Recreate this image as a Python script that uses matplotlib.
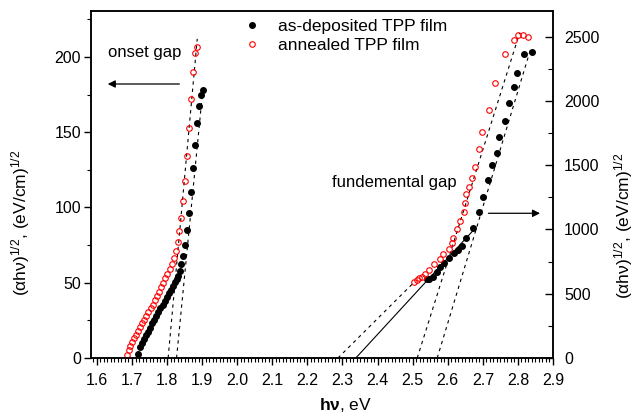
import matplotlib
matplotlib.use("Agg")
import matplotlib.pyplot as plt
from matplotlib.ticker import MultipleLocator, FormatStrFormatter

plt.rcParams['font.family'] = ['Liberation Sans', 'DejaVu Sans']
plt.rcParams['mathtext.fontset'] = 'custom'
plt.rcParams['mathtext.rm'] = 'Liberation Sans'
plt.rcParams['mathtext.bf'] = 'Liberation Sans:bold'
plt.rcParams['mathtext.default'] = 'regular'

# onset region (left axis)
dep_x_onset = [1.718, 1.724, 1.729, 1.734, 1.739, 1.745, 1.751, 1.757, 1.763, 1.769,
               1.775, 1.781, 1.787, 1.793, 1.799, 1.805, 1.811, 1.817, 1.822, 1.827,
               1.832, 1.836, 1.841, 1.846, 1.852, 1.857, 1.863, 1.869, 1.874, 1.880,
               1.886, 1.891, 1.897, 1.903]
dep_y_onset = [2.4, 7.1, 10, 12.5, 15, 17.5, 20, 23, 25.5, 28,
               30.5, 33, 35.5, 38, 40.5, 43, 45.5, 48, 50.5, 52.5,
               54.5, 58.0, 62.2, 67.8, 75.3, 85.0, 96.6, 110.5, 126.0, 141.5,
               155.9, 167.7, 174.8, 178.1]
ann_x_onset = [1.687, 1.691, 1.695, 1.700, 1.705, 1.711, 1.717, 1.723, 1.729, 1.735,
               1.741, 1.747, 1.753, 1.759, 1.765, 1.771, 1.777, 1.783, 1.789, 1.795,
               1.801, 1.807, 1.813, 1.819, 1.825, 1.830, 1.835, 1.841, 1.846, 1.852,
               1.857, 1.863, 1.869, 1.874, 1.879, 1.886]
ann_y_onset = [2, 5, 8, 10.5, 13, 15.5, 18, 20.5, 23, 25.5,
               28, 30.5, 33, 35.5, 38.5, 41, 44, 47, 50, 53,
               56, 59, 62.5, 66.5, 71.3, 77.3, 84.4, 93.2, 104.1, 117.8,
               134.4, 152.8, 172.3, 190.2, 202.5, 206.8]

# fundamental region (right axis)
dep_x_fund = [2.540, 2.547, 2.558, 2.570, 2.579, 2.589, 2.603, 2.617, 2.629, 2.642,
              2.651, 2.672, 2.688, 2.701, 2.715, 2.727, 2.739, 2.745, 2.762, 2.775,
              2.788, 2.797, 2.817, 2.839]
dep_y_fund = [612, 617, 633, 672, 711, 737, 781, 820, 840, 872,
              932, 1014, 1134, 1251, 1383, 1504, 1598, 1718, 1844, 1984,
              2107, 2220, 2363, 2384]
ann_x_fund = [2.504, 2.511, 2.518, 2.526, 2.534, 2.547, 2.560, 2.577, 2.587, 2.603,
              2.611, 2.615, 2.627, 2.634, 2.646, 2.649, 2.653, 2.661, 2.669, 2.679,
              2.688, 2.699, 2.717, 2.735, 2.762, 2.788, 2.800, 2.815, 2.829]
ann_y_fund = [589, 607, 625, 633, 654, 685, 732, 768, 809, 846,
              897, 934, 1004, 1066, 1134, 1204, 1276, 1328, 1403, 1489,
              1626, 1761, 1930, 2138, 2366, 2475, 2514, 2516, 2500]

# extrapolation lines (end points)
fit_dep_onset = ([1.827, 1.903], [0, 181])
fit_ann_onset = ([1.803, 1.886], [0, 212])
fit_ann_steep = ([2.513, 2.805], [0, 2530])
fit_dep_steep = ([2.570, 2.838], [0, 2420])
fit_ann_low = ([2.287, 2.505], [0, 592])
fit_dep_low = ([2.338, 2.675], [0, 1000])

fig = plt.figure(figsize=(6.36, 4.16), dpi=100)
fig.subplots_adjust(left=0.143, right=0.8695, top=0.9736, bottom=0.1394)
ax = fig.add_subplot(111)
ax2 = ax.twinx()

dash = dict(color='black', lw=0.8, dashes=(3, 3.5), zorder=1)
ax.plot(*fit_dep_onset, **dash)
ax.plot(*fit_ann_onset, **dash)
ax2.plot(*fit_ann_steep, **dash)
ax2.plot(*fit_dep_steep, **dash)
ax2.plot(*fit_ann_low, **dash)
ax2.plot(*fit_dep_low, color='black', lw=0.8, zorder=1)

ax.plot(dep_x_onset, dep_y_onset, 'o', color='black', ms=4, zorder=3,
        label='as-deposited TPP film')
ax.plot(ann_x_onset, ann_y_onset, 'o', mfc='none', mec='#ff0000', mew=0.8, ms=4,
        zorder=4, label='annealed TPP film')
ax2.plot(dep_x_fund, dep_y_fund, 'o', color='black', ms=4, zorder=3)
ax2.plot(ann_x_fund, ann_y_fund, 'o', mfc='none', mec='#ff0000', mew=0.8, ms=4, zorder=4)

ax.set_xlim(1.583, 2.9)
ax.set_ylim(0, 230.5)
ax2.set_ylim(0, 2700)

ax.xaxis.set_major_locator(MultipleLocator(0.1))
ax.xaxis.set_minor_locator(MultipleLocator(0.01))
ax.xaxis.set_major_formatter(FormatStrFormatter('%.1f'))
ax.yaxis.set_major_locator(MultipleLocator(50))
ax.yaxis.set_minor_locator(MultipleLocator(25))
ax2.yaxis.set_major_locator(MultipleLocator(500))
ax2.yaxis.set_minor_locator(MultipleLocator(250))

ax.tick_params(axis='both', which='major', direction='out', length=5, width=1,
               labelsize=11.5, pad=2)
ax.tick_params(axis='both', which='minor', direction='out', length=3, width=0.8)
ax.tick_params(axis='x', which='major', pad=6)
ax.tick_params(top=False, right=False, which='both')
ax2.tick_params(axis='y', which='major', direction='in', length=6, width=1,
                labelsize=11.5, pad=8)
ax2.tick_params(axis='y', which='minor', direction='in', length=3.5, width=0.8)

for a in (ax, ax2):
    for s in a.spines.values():
        s.set_linewidth(1.1)
        s.set_color('black')

ax.set_xlabel(r'$\mathbf{h\nu}$, eV', fontsize=12.5)
ax.xaxis.set_label_coords(0.55, -0.11)
ax.set_ylabel('(αhν)$^{1/2}$, (eV/cm)$^{1/2}$', fontsize=12.5)
ax.yaxis.set_label_coords(-0.128, 0.389)
ax2.set_ylabel('(αhν)$^{1/2}$, (eV/cm)$^{1/2}$', fontsize=12.5)
ax2.yaxis.set_label_coords(1.127, 0.38)

ax.annotate('', xy=(1.623, 182), xytext=(1.843, 182),
            arrowprops=dict(arrowstyle='-|>', color='black', lw=0.9, mutation_scale=11))
ax.text(1.633, 203, 'onset gap', fontsize=12, va='center', ha='left')
ax2.annotate('', xy=(2.871, 1126), xytext=(2.708, 1126),
             arrowprops=dict(arrowstyle='-|>', color='black', lw=0.9, mutation_scale=11))
ax2.text(2.626, 1362, 'fundemental gap', fontsize=12, va='center', ha='right')

h, l = ax.get_legend_handles_labels()
ax2.legend(h, l, loc='upper left', bbox_to_anchor=(0.329, 0.976), frameon=False,
           fontsize=12.5, handlelength=1, handletextpad=1.0, borderpad=0,
           borderaxespad=0, labelspacing=0.2)

fig.savefig('out.png', dpi=100)
